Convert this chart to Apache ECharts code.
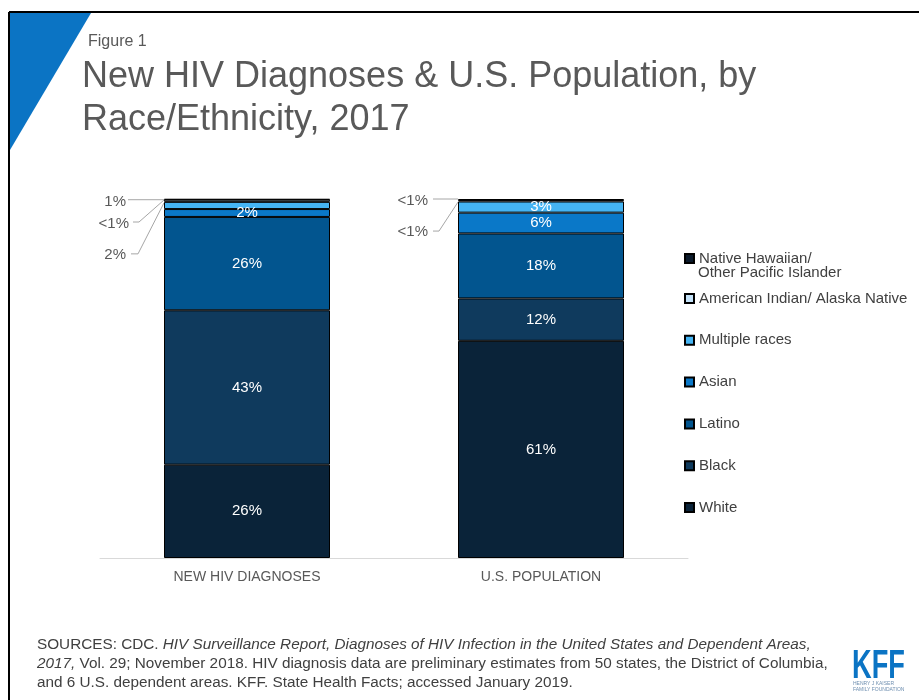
<!DOCTYPE html>
<html>
<head>
<meta charset="utf-8">
<script src="https://cdn.jsdelivr.net/npm/echarts@6/dist/echarts.min.js"></script>
<style>
html,body{margin:0;padding:0;background:#fff;}
#chart{width:919px;height:700px;}
</style>
</head>
<body>
<div id="chart"></div>
<script>
// ---- data ----
const categories = ['NEW HIV DIAGNOSES', 'U.S. POPULATION'];
const seriesNames = ['White', 'Black', 'Latino', 'Asian', 'Multiple races',
  'American Indian/ Alaska Native', 'Native Hawaiian/ Other Pacific Islander'];
const hivValues = [26, 43, 26, 2.2, 2, 0.6, 0.2];
const usValues = [60.5, 11.8, 18.1, 5.8, 3.1, 0.4, 0.3];
const hivLabels = ['26%', '43%', '26%', '2%', '2%', '1%', '<1%'];
const usLabels = ['61%', '12%', '18%', '6%', '3%', '<1%', '<1%'];
const hivInside = [true, true, true, true, false, false, false];
const usInside = [true, true, true, true, true, false, false];
const seriesColors = ['#0a2339', '#0f3a5d', '#02558f', '#0a78c8', '#45b4f3', '#c4e2f8', '#0b1a2b'];

const FONT = '"Liberation Sans", Arial, sans-serif';
const GRAY = '#595959';

const chart = echarts.init(document.getElementById('chart'), null, {renderer: 'canvas'});

const series = seriesNames.map((name, i) => ({
  name: name,
  type: 'bar',
  stack: 'total',
  barWidth: 166,
  data: [hivValues[i], usValues[i]],
  itemStyle: {color: seriesColors[i], borderColor: '#000', borderWidth: 1},
  label: {
    show: true,
    position: 'inside',
    color: '#fff',
    fontSize: 15,
    fontFamily: FONT,
    formatter: (p) => {
      if (p.dataIndex === 0) return hivInside[i] ? hivLabels[i] : '';
      return usInside[i] ? usLabels[i] : '';
    }
  },
  emphasis: {disabled: true}
}));

const option = {
  animation: false,
  backgroundColor: '#fff',
  title: [
    {text: 'Figure 1', left: 83, top: 29, textStyle: {fontFamily: FONT, fontSize: 16, fontWeight: 'normal', color: GRAY}},
    {text: 'New HIV Diagnoses & U.S. Population, by\nRace/Ethnicity, 2017', left: 77, top: 51,
      textStyle: {fontFamily: FONT, fontSize: 36, fontWeight: 'normal', color: GRAY, lineHeight: 43}}
  ],
  grid: {left: 100, right: 231, top: 199, bottom: 142},
  xAxis: {
    type: 'category',
    data: categories,
    axisLine: {show: true, lineStyle: {color: '#d9d9d9', width: 1}},
    axisTick: {show: false},
    axisLabel: {color: GRAY, fontSize: 14, fontFamily: FONT, margin: 12}
  },
  yAxis: {type: 'value', min: 0, max: 100, show: false},
  legend: [
    {
      data: [seriesNames[6]],
      left: 684, top: 251, padding: 0,
      icon: 'rect', itemWidth: 9, itemHeight: 9,
      formatter: () => 'Native Hawaiian/',
      textStyle: {fontFamily: FONT, fontSize: 15, color: '#404040', lineHeight: 10},
      selectedMode: false
    },
    {
      data: [seriesNames[5], seriesNames[4], seriesNames[3], seriesNames[2], seriesNames[1], seriesNames[0]],
      orient: 'vertical',
      left: 684, top: 291, padding: 0,
      icon: 'rect', itemWidth: 9, itemHeight: 9, itemGap: 26.8,
      textStyle: {fontFamily: FONT, fontSize: 15, color: '#404040', lineHeight: 10},
      selectedMode: false
    }
  ],
  series: series
};
chart.setOption(option);

// ---- annotations anchored to the bars via the library's scales ----
function px(cat, val) { return chart.convertToPixel({gridIndex: 0}, [cat, val]); }
function cum(vals, idx) { let s = 0; for (let k = 0; k < idx; k++) s += vals[k]; return s; }

const barHalf = 83;
const g = [];
// frame and corner triangle
g.push({type: 'polygon', shape: {points: [[10, 13], [91, 13], [10, 150]]}, style: {fill: '#0b74c4'}, z: 1});
g.push({type: 'line', shape: {x1: 9, y1: 12, x2: 919, y2: 12}, style: {stroke: '#000', lineWidth: 2}, z: 2});
g.push({type: 'line', shape: {x1: 9, y1: 12, x2: 9, y2: 700}, style: {stroke: '#000', lineWidth: 2}, z: 2});

// outside labels for small segments
function outside(cat, vals, labels, idx, dx, dy, pts) {
  const top = px(cat, cum(vals, idx + 1));
  const left = top[0] - barHalf;
  const y0 = top[1];
  g.push({type: 'text', x: left + dx, y: y0 + dy,
    style: {text: labels[idx], fill: GRAY, font: '15px ' + FONT, textAlign: 'right', textVerticalAlign: 'middle'}});
  g.push({type: 'polyline', shape: {points: pts.map(p => [left + p[0], y0 + p[1]])},
    style: {stroke: '#a6a6a6', lineWidth: 1, fill: null}});
}
// HIV bar
outside(0, hivValues, hivLabels, 5, -38, 2, [[-36, 0], [0, 0]]);
outside(0, hivValues, hivLabels, 6, -35, 25, [[-31, 23], [-25, 23], [0, 1]]);
outside(0, hivValues, hivLabels, 4, -38, 53, [[-33, 52], [-26, 52], [0, 1]]);
// US bar
outside(1, usValues, usLabels, 6, -30, 2, [[-25, 0], [0, 0]]);
outside(1, usValues, usLabels, 5, -30, 32, [[-25, 31], [-19, 31], [0, 2]]);

// legend second line
g.push({type: 'text', x: 698, y: 273, style: {text: 'Other Pacific Islander', fill: '#404040', font: '15px ' + FONT, textVerticalAlign: 'middle'}});

// footer
g.push({type: 'text', x: 37, y: 635, style: {
  text: '{n|SOURCES: CDC. }{i|HIV Surveillance Report, Diagnoses of HIV Infection in the United States and Dependent Areas,}\n' +
        '{i|2017,}{n| Vol. 29; November 2018. HIV diagnosis data are preliminary estimates from 50 states, the District of Columbia,}\n' +
        '{n|and 6 U.S. dependent areas. KFF. State Health Facts; accessed January 2019.}',
  rich: {
    n: {fontFamily: FONT, fontSize: 15.3, fill: '#404040', lineHeight: 19},
    i: {fontFamily: FONT, fontSize: 15.3, fontStyle: 'italic', fill: '#404040', lineHeight: 19}
  }
}});

// KFF logo
g.push({type: 'text', x: 852, y: 647, scaleX: 0.68, style: {text: 'KFF', fill: '#0b74c4', font: 'bold 40px ' + FONT}});
g.push({type: 'text', x: 853, y: 681, style: {text: 'HENRY J KAISER', fill: '#6f8fb0', font: '5px ' + FONT}});
g.push({type: 'text', x: 853, y: 687, style: {text: 'FAMILY FOUNDATION', fill: '#6f8fb0', font: '5px ' + FONT}});

chart.setOption({graphic: {elements: g}});
</script>
</body>
</html>
